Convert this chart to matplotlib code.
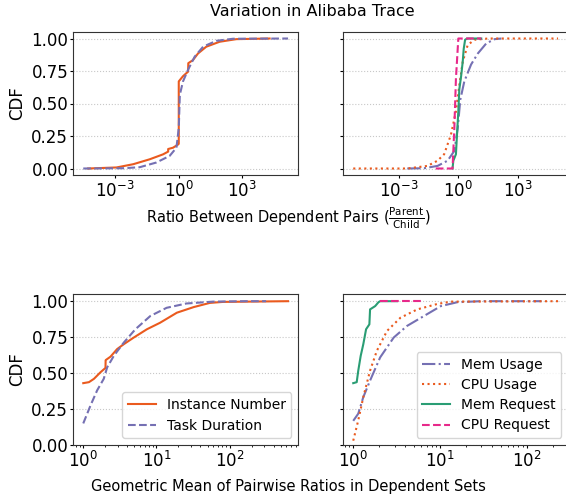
import matplotlib
matplotlib.use("Agg")
import matplotlib.pyplot as plt
from matplotlib.ticker import NullLocator
import numpy as np

# colours
ORANGE = "#ea5a1e"
PURPLE = "#7570b3"
GREEN = "#2a9d74"
PINK = "#e7298a"

# top-left: ratio between dependent pairs (log10 of ratio, cdf)
inst_pair_log = [-4.28, -2.94, -2.15, -1.37, -0.74, -0.5, -0.5, -0.27, -0.03, 0.0, 0.0,
                 0.2, 0.44, 0.45, 0.67, 0.91, 1.3, 1.93, 2.72, 4.29]
inst_pair_cdf = [0.0, 0.008, 0.033, 0.071, 0.109, 0.13, 0.15, 0.16, 0.185, 0.19, 0.67,
                 0.71, 0.745, 0.81, 0.834, 0.885, 0.937, 0.975, 0.995, 1.0]
dur_pair_log = [-4.51, -2.63, -1.84, -1.06, -0.43, -0.11, 0.0, 0.05, 0.2, 0.44, 0.75,
                1.15, 1.77, 2.56, 5.16]
dur_pair_cdf = [0.0, 0.002, 0.01, 0.046, 0.097, 0.16, 0.31, 0.567, 0.67, 0.76, 0.86,
                0.937, 0.982, 0.998, 1.0]

# top-right: resource ratios between dependent pairs
memu_pair_log = [-2.56, -1.72, -1.04, -0.54, -0.2, -0.03, 0.1, 0.3, 0.64, 0.98, 1.4, 1.82, 2.16]
memu_pair_cdf = [0.0, 0.002, 0.02, 0.06, 0.135, 0.31, 0.53, 0.67, 0.80, 0.885, 0.962, 0.995, 1.0]
cpuu_pair_log = [-5.27, -2.56, -1.55, -1.04, -0.71, -0.37, -0.12, 0.05, 0.22, 0.47, 0.81, 1.49, 5.0]
cpuu_pair_cdf = [0.0, 0.0, 0.02, 0.06, 0.11, 0.26, 0.44, 0.64, 0.82, 0.95, 0.99, 1.0, 1.0]
memr_pair_log = [-0.29, -0.25, -0.12, -0.07, 0.0, 0.05, 0.14, 0.22, 0.27, 0.34, 0.44, 1.15]
memr_pair_cdf = [0.0, 0.06, 0.11, 0.25, 0.44, 0.61, 0.71, 0.82, 0.92, 0.99, 1.0, 1.0]
cpur_pair_log = [-1.13, -0.29, -0.2, -0.12, 0.0, 1.15]
cpur_pair_cdf = [0.0, 0.0, 0.31, 0.69, 1.0, 1.0]

# bottom-left: geometric mean of pairwise ratios in dependent sets
inst_set_log = [0.0, 0.078, 0.146, 0.236, 0.304, 0.306, 0.372, 0.463, 0.554, 0.69, 0.871,
                1.05, 1.28, 1.51, 1.73, 1.91, 2.8]
inst_set_cdf = [0.43, 0.437, 0.46, 0.506, 0.536, 0.59, 0.614, 0.667, 0.701, 0.747, 0.805,
                0.85, 0.92, 0.959, 0.988, 0.995, 1.0]
dur_set_log = [0.0, 0.1, 0.19, 0.28, 0.327, 0.418, 0.554, 0.713, 0.917, 1.14, 1.41, 1.78, 2.23, 2.5]
dur_set_cdf = [0.15, 0.276, 0.38, 0.46, 0.54, 0.62, 0.712, 0.805, 0.897, 0.954, 0.984, 0.997, 1.0, 1.0]

# bottom-right
memu_set_log = [0.0, 0.058, 0.116, 0.194, 0.31, 0.466, 0.62, 0.815, 1.01, 1.2, 1.475, 2.17]
memu_set_cdf = [0.168, 0.218, 0.333, 0.448, 0.609, 0.747, 0.828, 0.897, 0.966, 0.993, 1.0, 1.0]
cpuu_set_log = [0.0, 0.058, 0.116, 0.194, 0.272, 0.389, 0.544, 0.738, 0.971, 1.126, 2.36]
cpuu_set_cdf = [0.03, 0.172, 0.333, 0.517, 0.655, 0.793, 0.885, 0.943, 0.981, 0.997, 1.0]
memr_set_log = [0.0, 0.04, 0.058, 0.086, 0.116, 0.148, 0.186, 0.194, 0.253, 0.291, 0.31, 0.505]
memr_set_cdf = [0.43, 0.437, 0.517, 0.62, 0.701, 0.805, 0.839, 0.943, 0.966, 0.993, 1.0, 1.0]
cpur_set_log = [0.31, 0.776]
cpur_set_cdf = [1.0, 1.0]

pair_ticks = [1e-3, 1e0, 1e3]
cdf_ticks = [0.0, 0.25, 0.5, 0.75, 1.0]
cdf_tick_labels = ["0.00", "0.25", "0.50", "0.75", "1.00"]


def xs(logs):
    return 10 ** np.array(logs)


plt.rcParams["font.size"] = 12
plt.rcParams["xtick.major.size"] = 2.5
plt.rcParams["ytick.major.size"] = 2.5
plt.rcParams["xtick.minor.size"] = 1.5
plt.rcParams["xtick.major.pad"] = 1.5
plt.rcParams["ytick.major.pad"] = 1.0
fig = plt.figure(figsize=(5.66, 5.0), dpi=100)

ax_tl = fig.add_axes([0.129, 0.65, 0.398, 0.286])
ax_tr = fig.add_axes([0.606, 0.65, 0.398, 0.286], sharey=ax_tl)
ax_bl = fig.add_axes([0.129, 0.11, 0.398, 0.302])
ax_br = fig.add_axes([0.606, 0.11, 0.398, 0.302], sharey=ax_bl)

ax_tl.plot(xs(inst_pair_log), inst_pair_cdf, color=ORANGE, lw=1.5, label="Instance Number")
ax_tl.plot(xs(dur_pair_log), dur_pair_cdf, color=PURPLE, lw=1.5, ls="--", label="Task Duration")

ax_tr.plot(xs(memu_pair_log), memu_pair_cdf, color=PURPLE, lw=1.5, ls="-.", label="Mem Usage")
ax_tr.plot(xs(cpuu_pair_log), cpuu_pair_cdf, color=ORANGE, lw=1.5, ls=":", label="CPU Usage")
ax_tr.plot(xs(memr_pair_log), memr_pair_cdf, color=GREEN, lw=1.5, label="Mem Request")
ax_tr.plot(xs(cpur_pair_log), cpur_pair_cdf, color=PINK, lw=1.5, ls="--", label="CPU Request")

ax_bl.plot(xs(inst_set_log), inst_set_cdf, color=ORANGE, lw=1.5, label="Instance Number")
ax_bl.plot(xs(dur_set_log), dur_set_cdf, color=PURPLE, lw=1.5, ls="--", label="Task Duration")

ax_br.plot(xs(memu_set_log), memu_set_cdf, color=PURPLE, lw=1.5, ls="-.", label="Mem Usage")
ax_br.plot(xs(cpuu_set_log), cpuu_set_cdf, color=ORANGE, lw=1.5, ls=":", label="CPU Usage")
ax_br.plot(xs(memr_set_log), memr_set_cdf, color=GREEN, lw=1.5, label="Mem Request")
ax_br.plot(xs(cpur_set_log), cpur_set_cdf, color=PINK, lw=1.5, ls="--", label="CPU Request")

for ax in [ax_tl, ax_tr, ax_bl, ax_br]:
    ax.set_xscale("log")
    ax.set_yticks(cdf_ticks)
    ax.yaxis.grid(True, ls=":", color="#c8c8c8", lw=0.8)
    ax.set_axisbelow(True)
    for s in ax.spines.values():
        s.set_color("#333333")

for ax in [ax_tl, ax_tr]:
    ax.set_xticks(pair_ticks)
    ax.xaxis.set_minor_locator(NullLocator())

ax_tl.set_yticklabels(cdf_tick_labels)
ax_bl.set_yticklabels(cdf_tick_labels)
ax_tr.tick_params(labelleft=False)
ax_br.tick_params(labelleft=False)
ax_bl.set_ylim(0, 1.05)

ax_tl.set_ylabel("CDF")
ax_bl.set_ylabel("CDF")
ax_tl.yaxis.set_label_coords(-0.21, 0.5)
ax_bl.yaxis.set_label_coords(-0.21, 0.5)

ax_bl.legend(loc="lower right", fontsize=10)
ax_br.legend(loc="lower right", fontsize=10, labelspacing=0.45)

fig.text(0.551, 0.976, "Variation in Alibaba Trace", ha="center", va="center", fontsize=11.5)
fig.text(0.509, 0.563, r"Ratio Between Dependent Pairs ($\frac{\mathrm{Parent}}{\mathrm{Child}}$)",
         ha="center", va="center", fontsize=10.5)
fig.text(0.509, 0.026, "Geometric Mean of Pairwise Ratios in Dependent Sets",
         ha="center", va="center", fontsize=10.5)

fig.savefig("out.png", dpi=100)
